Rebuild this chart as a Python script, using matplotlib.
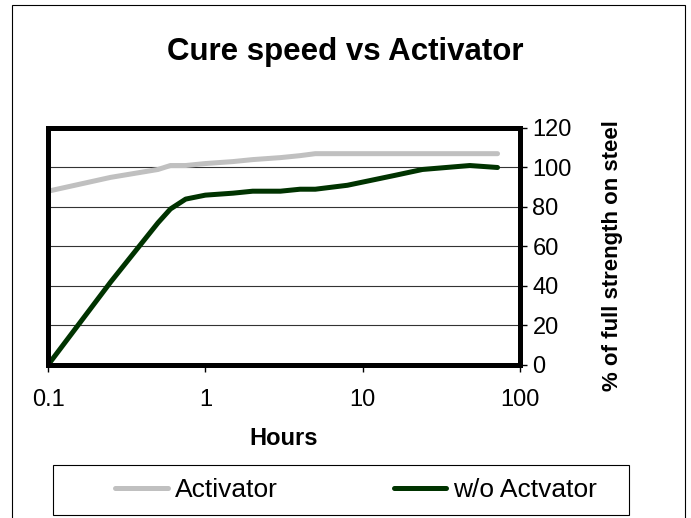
import matplotlib
matplotlib.use("Agg")
import matplotlib.pyplot as plt
from matplotlib.patches import Rectangle

plt.rcParams['font.family'] = ['Liberation Sans', 'DejaVu Sans']

# data
hours = [0.1, 0.25, 0.5, 0.6, 0.75, 1, 1.5, 2, 3, 4, 5, 8, 16, 24, 48, 72]
activator = [88, 95, 99, 101, 101, 102, 103, 104, 105, 106, 107, 107, 107, 107, 107, 107]
no_activator = [0, 42, 72, 79, 84, 86, 87, 88, 88, 89, 89, 91, 96, 99, 101, 100]
yticks = [0, 20, 40, 60, 80, 100, 120]
xticks = [0.1, 1, 10, 100]
xticklabels = ["0.1", "1", "10", "100"]

fig = plt.figure(figsize=(6.91, 5.18), dpi=100)
ax = fig.add_axes([0.0695, 0.2954, 0.683, 0.4575])

ax.plot(hours, activator, color='#C0C0C0', lw=3.6, solid_joinstyle='round',
        solid_capstyle='round', label='Activator')
ax.plot(hours, no_activator, color='#003300', lw=3.6, solid_joinstyle='round',
        solid_capstyle='round', label='w/o Actvator')

ax.set_xscale('log')
ax.set_xlim(0.1, 100)
ax.set_ylim(0, 120)
ax.set_xticks(xticks)
ax.set_xticklabels(xticklabels)
ax.minorticks_off()
ax.set_yticks(yticks)
ax.yaxis.tick_right()
ax.yaxis.set_label_position('right')
ax.tick_params(axis='both', direction='out', length=5, width=1, labelsize=17, pad=4)
ax.tick_params(axis='x', pad=12)
ax.grid(axis='y', color='#333333', lw=0.8)
for s in ax.spines.values():
    s.set_linewidth(3.6)
    s.set_color('black')

ax.set_ylabel('% of full strength on steel', fontsize=16, fontweight='bold', labelpad=22)
ax.yaxis.label.set_y(0.46)
ax.set_xlabel('Hours', fontsize=17, fontweight='bold', labelpad=12)
fig.text(0.5, 0.90, 'Cure speed vs Activator', ha='center', va='center',
         fontsize=22.5, fontweight='bold')

# legend box and outer frame
fig.patches.append(Rectangle((53/691, 1-515/518), 576/691, 50/518, transform=fig.transFigure,
                             fill=False, edgecolor='black', lw=0.8))
fig.patches.append(Rectangle((12/691, -0.05), 673/691, 1-5/518+0.05, transform=fig.transFigure,
                             fill=False, edgecolor='black', lw=0.8))
fig.legend(loc='center', bbox_to_anchor=(356/691, 1-490/518), ncol=2, frameon=False,
           fontsize=19, handlelength=2.0, handletextpad=0.25, columnspacing=4.4)

fig.savefig('out.png', dpi=100)
